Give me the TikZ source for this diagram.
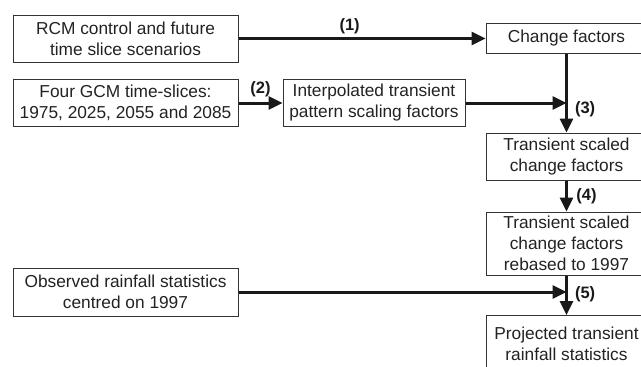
\documentclass[tikz,border=0pt]{standalone}
\usepackage{fontspec}
\setmainfont{Liberation Sans}
\usetikzlibrary{arrows.meta,positioning}
\definecolor{boxline}{HTML}{333333}
\definecolor{boxtext}{HTML}{222222}
\tikzset{
mybox/.style={
  rectangle,
  draw=boxline,
  line width=1pt,
  text=boxtext,
  align=center,
  inner sep=0pt,
  font=\fontsize{17.3}{21}\selectfont
  },
mylink/.style={
  draw=black!90,
  line width=3pt,
  -{Triangle[length=14pt,width=13pt]}
  },
steplabel/.style={
  text=black!90,
  font=\fontsize{16.5}{20}\selectfont\bfseries
  }
}
\begin{document}
\begin{tikzpicture}[x=1pt,y=-1pt]
\clip (0,0) rectangle (641,367);
\node[mybox,minimum width=225,minimum height=47] (rcm) at (125.5,38.5)
  {RCM control and future\\time slice scenarios};
\node[mybox,minimum width=225,minimum height=47] (gcm) at (125.5,103)
  {Four GCM time-slices:\\1975, 2025, 2055 and 2085};
\node[mybox,minimum width=182,minimum height=47] (interp) at (374,103)
  {Interpolated transient\\pattern scaling factors};
\node[mybox,minimum width=225,minimum height=48] (obs) at (125.5,292)
  {Observed rainfall statistics\\centred on 1997};
\node[mybox,minimum width=161,minimum height=30] (chg) at (566.5,38.5)
  {Change factors};
\node[mybox,minimum width=161,minimum height=47] (tsc) at (566.5,156.5)
  {Transient scaled\\change factors};
\node[mybox,minimum width=161,minimum height=63] (reb) at (566.5,243.5)
  {Transient scaled\\change factors\\rebased to 1997};
\node[mybox,minimum width=161,minimum height=56,anchor=north] (proj) at (566.5,315)
  {Projected transient\\rainfall statistics};
\coordinate (m3) at (chg.south |- interp.east);
\coordinate (m5) at (chg.south |- obs.east);
\draw[mylink] (rcm) -- node[steplabel,above,pos=0.45] {(1)} (chg);
\draw[mylink] (gcm) -- node[steplabel,above=1pt] {(2)} (interp);
\draw[mylink] (interp) -- (m3);
\draw[mylink] (chg) -- (tsc);
\draw[mylink] (tsc) -- node[steplabel,right=5pt] {(4)} (reb);
\draw[mylink] (obs) -- (m5);
\draw[mylink] (reb) -- (proj);
\node[steplabel,right=5pt of m3,yshift=-6pt] (lab3) {(3)};
\node[steplabel,right=5pt of m5,yshift=-2pt] (lab5) {(5)};
\end{tikzpicture}
\end{document}
